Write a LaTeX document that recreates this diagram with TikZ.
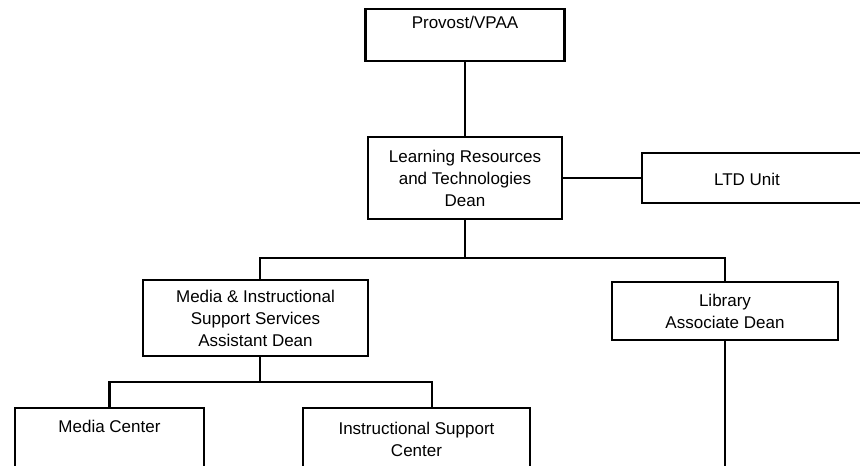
\documentclass[tikz,border=0pt]{standalone}
\usepackage{fontspec}
\setmainfont{Liberation Sans}
\begin{document}
\begin{tikzpicture}[x=1pt,y=-1pt,
  box/.style={draw, line width=2.1pt, inner sep=0pt},
  txt/.style={font=\fontsize{17}{22}\selectfont, align=center, inner sep=0pt},
  link/.style={line width=2.1pt}]
\useasboundingbox (0,0) rectangle (860,466);
\clip (0,0) rectangle (860,466);

% boxes
\node[box, minimum width=199pt, minimum height=52pt] (prov) at (465,35) {};
\node[txt, anchor=north] (provtxt) at ([yshift=-8pt]prov.north) {Provost/VPAA};

\node[box, txt, minimum width=194pt, minimum height=82pt] (lrt) at (465,178)
  {Learning Resources\\and Technologies\\Dean};

\node[box, minimum width=238pt, minimum height=50pt] (ltd) at (761,178) {};
\node[txt] (ltdtxt) at (747,179) {LTD Unit};

\node[box, txt, minimum width=225pt, minimum height=76pt] (miss) at (255.5,318)
  {Media \& Instructional\\Support Services\\Assistant Dean};

\node[box, txt, minimum width=226pt, minimum height=58pt] (lib) at (725,311)
  {Library\\Associate Dean};

\node[box, minimum width=189pt, minimum height=60pt] (mc) at (109.5,438) {};
\node[txt, anchor=north] (mctxt) at ([yshift=-13pt]mc.north) {Media Center};

\node[box, minimum width=227pt, minimum height=60pt] (isc) at (416.5,438) {};
\node[txt, anchor=north] (isctxt) at ([yshift=-15pt]isc.north) {Instructional Support\\Center};

% connectors
\coordinate (bus) at (465,258);
\coordinate (bus2) at (260,382);
\coordinate (libend) at (725,470);

\draw[link] (prov.south) -- (lrt.north);
\draw[link] (lrt.east) -- (ltd.west);
\draw[link] (lrt.south) -- (bus);
\draw[link] ([xshift=4.5pt]miss.north) -- ([xshift=4.5pt]miss.north |- bus)
  -- (lib.north |- bus) -- (lib.north);
\draw[link] (lib.south) -- (libend);
\draw[link] ([xshift=4.5pt]miss.south) -- (bus2);
\draw[link] (mc.north) -- (mc.north |- bus2) -- ([xshift=15.5pt]isc.north |- bus2)
  -- ([xshift=15.5pt]isc.north);
\end{tikzpicture}
\end{document}
